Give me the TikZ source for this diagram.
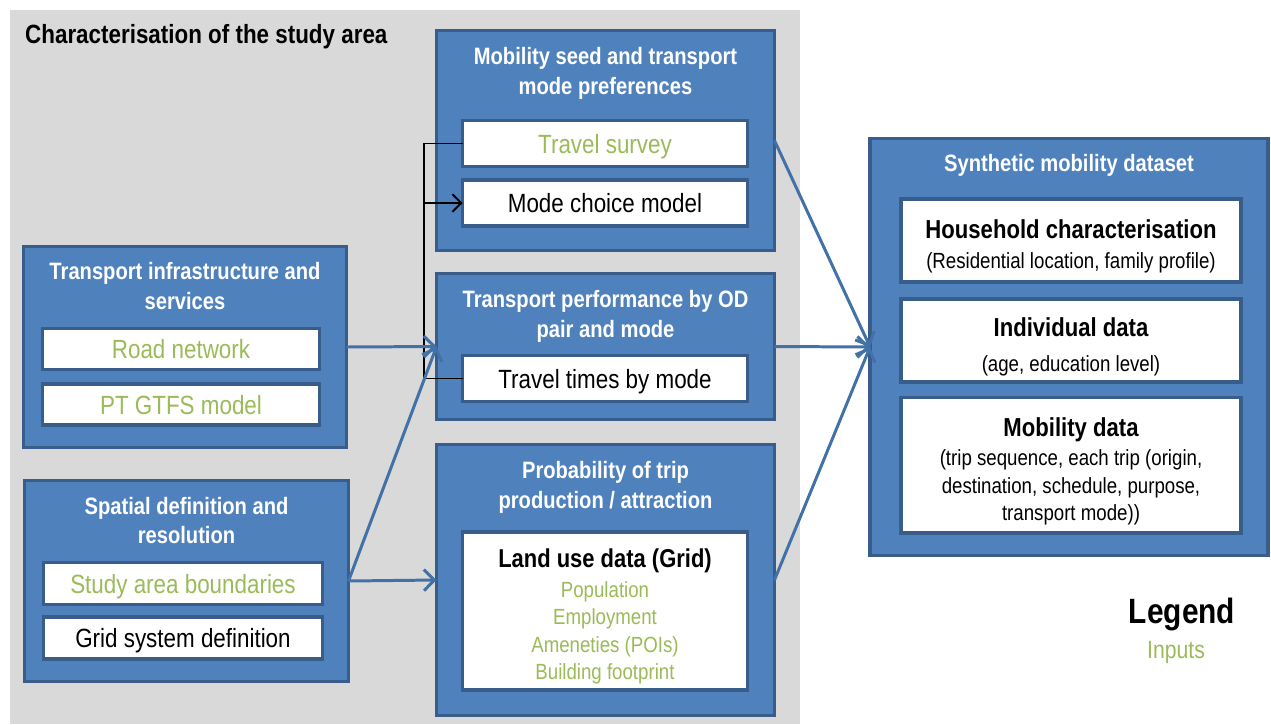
\documentclass[tikz,border=0pt]{standalone}
\usepackage{fontspec}
\setmainfont{Liberation Sans}[FakeStretch=0.85]
\usepackage{tikz}
\usetikzlibrary{positioning,arrows.meta}
\definecolor{panelblue}{RGB}{79,129,189}
\definecolor{panelline}{RGB}{56,93,138}
\definecolor{flowblue}{RGB}{65,113,167}
\definecolor{inputgreen}{RGB}{155,187,89}
\definecolor{areagray}{RGB}{217,217,217}
\newcommand{\headline}[1]{\rule{0pt}{15pt}{\bfseries\fontsize{14.8}{18}\selectfont #1}}

\begin{document}
\begin{tikzpicture}[
        x=0.02cm, y=-0.02cm,
        panel/.style={rectangle, draw=panelline, fill=panelblue, line width=2pt, inner sep=0pt, outer sep=0pt},
        paneltitle/.style={text=white, font=\bfseries\fontsize{13.5}{17}\selectfont, align=center, inner sep=0pt},
        item/.style={rectangle, draw=panelline, fill=white, line width=2pt, inner sep=0pt, outer sep=0pt, align=center, text depth=0pt, font=\fontsize{15}{18}\selectfont},
        input/.style={item, text=inputgreen},
        detail/.style={text depth=0pt, font=\fontsize{12.5}{15.6}\selectfont},
        flow/.style={draw=flowblue, line width=1.7pt, -{Straight Barb[length=6pt, width=12pt]}},
        link/.style={draw=black, line width=1.1pt},
    ]
        \useasboundingbox (0,0) rectangle (1271,724);
        \fill[areagray] (10,10) rectangle (800,724);
        \node[anchor=west, font=\bfseries\fontsize{15}{18}\selectfont] (areatitle) at (19,37) {Characterisation of the study area};

        \node[panel, minimum width=6.46cm, minimum height=4.02cm] (infra) at (185,347) {};
        \node[paneltitle] (infratitle) at (185,286) {Transport infrastructure and\\services};
        \node[input, minimum width=5.54cm, minimum height=0.82cm] (road) at (181,349) {Road network};
        \node[input, minimum width=5.54cm, minimum height=0.82cm, below=0.29cm of road] (gtfs) {PT GTFS model};

        \node[panel, minimum width=6.48cm, minimum height=4.02cm] (spatial) at (186.5,581) {};
        \node[paneltitle] (spatialtitle) at (186.5,520.5) {Spatial definition and\\resolution};
        \node[input, minimum width=5.58cm, minimum height=0.84cm] (study) at (183,583.5) {Study area boundaries};
        \node[item, minimum width=5.58cm, minimum height=0.84cm, below=0.25cm of study] (gridsys) {Grid system definition};

        \node[panel, minimum width=6.76cm, minimum height=4.40cm] (seed) at (605.5,140.5) {};
        \node[paneltitle] (seedtitle) at (605.5,73) {Mobility seed and transport\\mode preferences};
        \node[input, minimum width=5.70cm, minimum height=0.92cm] (survey) at (605,143.5) {Travel survey};
        \node[item, minimum width=5.70cm, minimum height=0.92cm, below=0.27cm of survey] (modechoice) {Mode choice model};

        \node[panel, minimum width=6.76cm, minimum height=2.92cm] (perf) at (605.5,346.5) {};
        \node[paneltitle] (perftitle) at (605.5,316) {Transport performance by OD\\pair and mode};
        \node[item, minimum width=5.70cm, minimum height=0.92cm] (ttimes) at (605,378.5) {Travel times by mode};

        \node[panel, minimum width=6.76cm, minimum height=5.42cm] (prob) at (605.5,580) {};
        \node[paneltitle] (probtitle) at (605.5,487) {Probability of trip\\production / attraction};
        \node[item, detail, minimum width=5.70cm, minimum height=3.17cm] (landuse) at (605,611) {\rule{0pt}{14pt}{\bfseries\fontsize{14.7}{17}\selectfont Land use data (Grid)}\\[1.5pt]
        \textcolor{inputgreen}{Population}\\
        \textcolor{inputgreen}{Employment}\\
        \textcolor{inputgreen}{Ameneties (POIs)}\\
        \textcolor{inputgreen}{Building footprint}};

        \node[panel, minimum width=7.96cm, minimum height=8.34cm] (synth) at (1069,347) {};
        \node[paneltitle] (synthtitle) at (1069,165) {Synthetic mobility dataset};
        \node[item, detail, minimum width=6.81cm, minimum height=1.67cm] (household) at (1071,240.5) {\headline{Household characterisation}\\[1.5pt]
        (Residential location, family profile)};
        \node[item, detail, minimum width=6.81cm, minimum height=1.67cm, below=0.33cm of household] (individual) {\headline{Individual data}\\[4.5pt]
        (age, education level)};
        \node[item, detail, minimum width=6.81cm, minimum height=2.71cm, below=0.31cm of individual] (mobility) {\headline{Mobility data}\\[1pt]
        (trip sequence, each trip (origin,\\
        destination, schedule, purpose,\\
        transport mode))};

        \node[font=\bfseries\fontsize{20}{24}\selectfont] (legend) at (1182,614) {Legend};
        \node[text=inputgreen, font=\fontsize{14.2}{17}\selectfont] (inputs) at (1176,652) {Inputs};

        \draw[link] (survey.west) -- ++(-39,0) coordinate (junction) |- (ttimes.west);
        \draw[link, -{Straight Barb[length=5pt, width=10pt]}] (junction |- modechoice.west) -- (modechoice.west);

        \draw[flow] (infra.east) -- (perf.west);
        \draw[flow] (spatial.east) -- (perf.west);
        \draw[flow] (spatial.east) -- (prob.west);
        \draw[flow] (seed.east) -- (synth.west);
        \draw[flow] (perf.east) -- (synth.west);
        \draw[flow] (prob.east) -- (synth.west);
    \end{tikzpicture}
\end{document}
